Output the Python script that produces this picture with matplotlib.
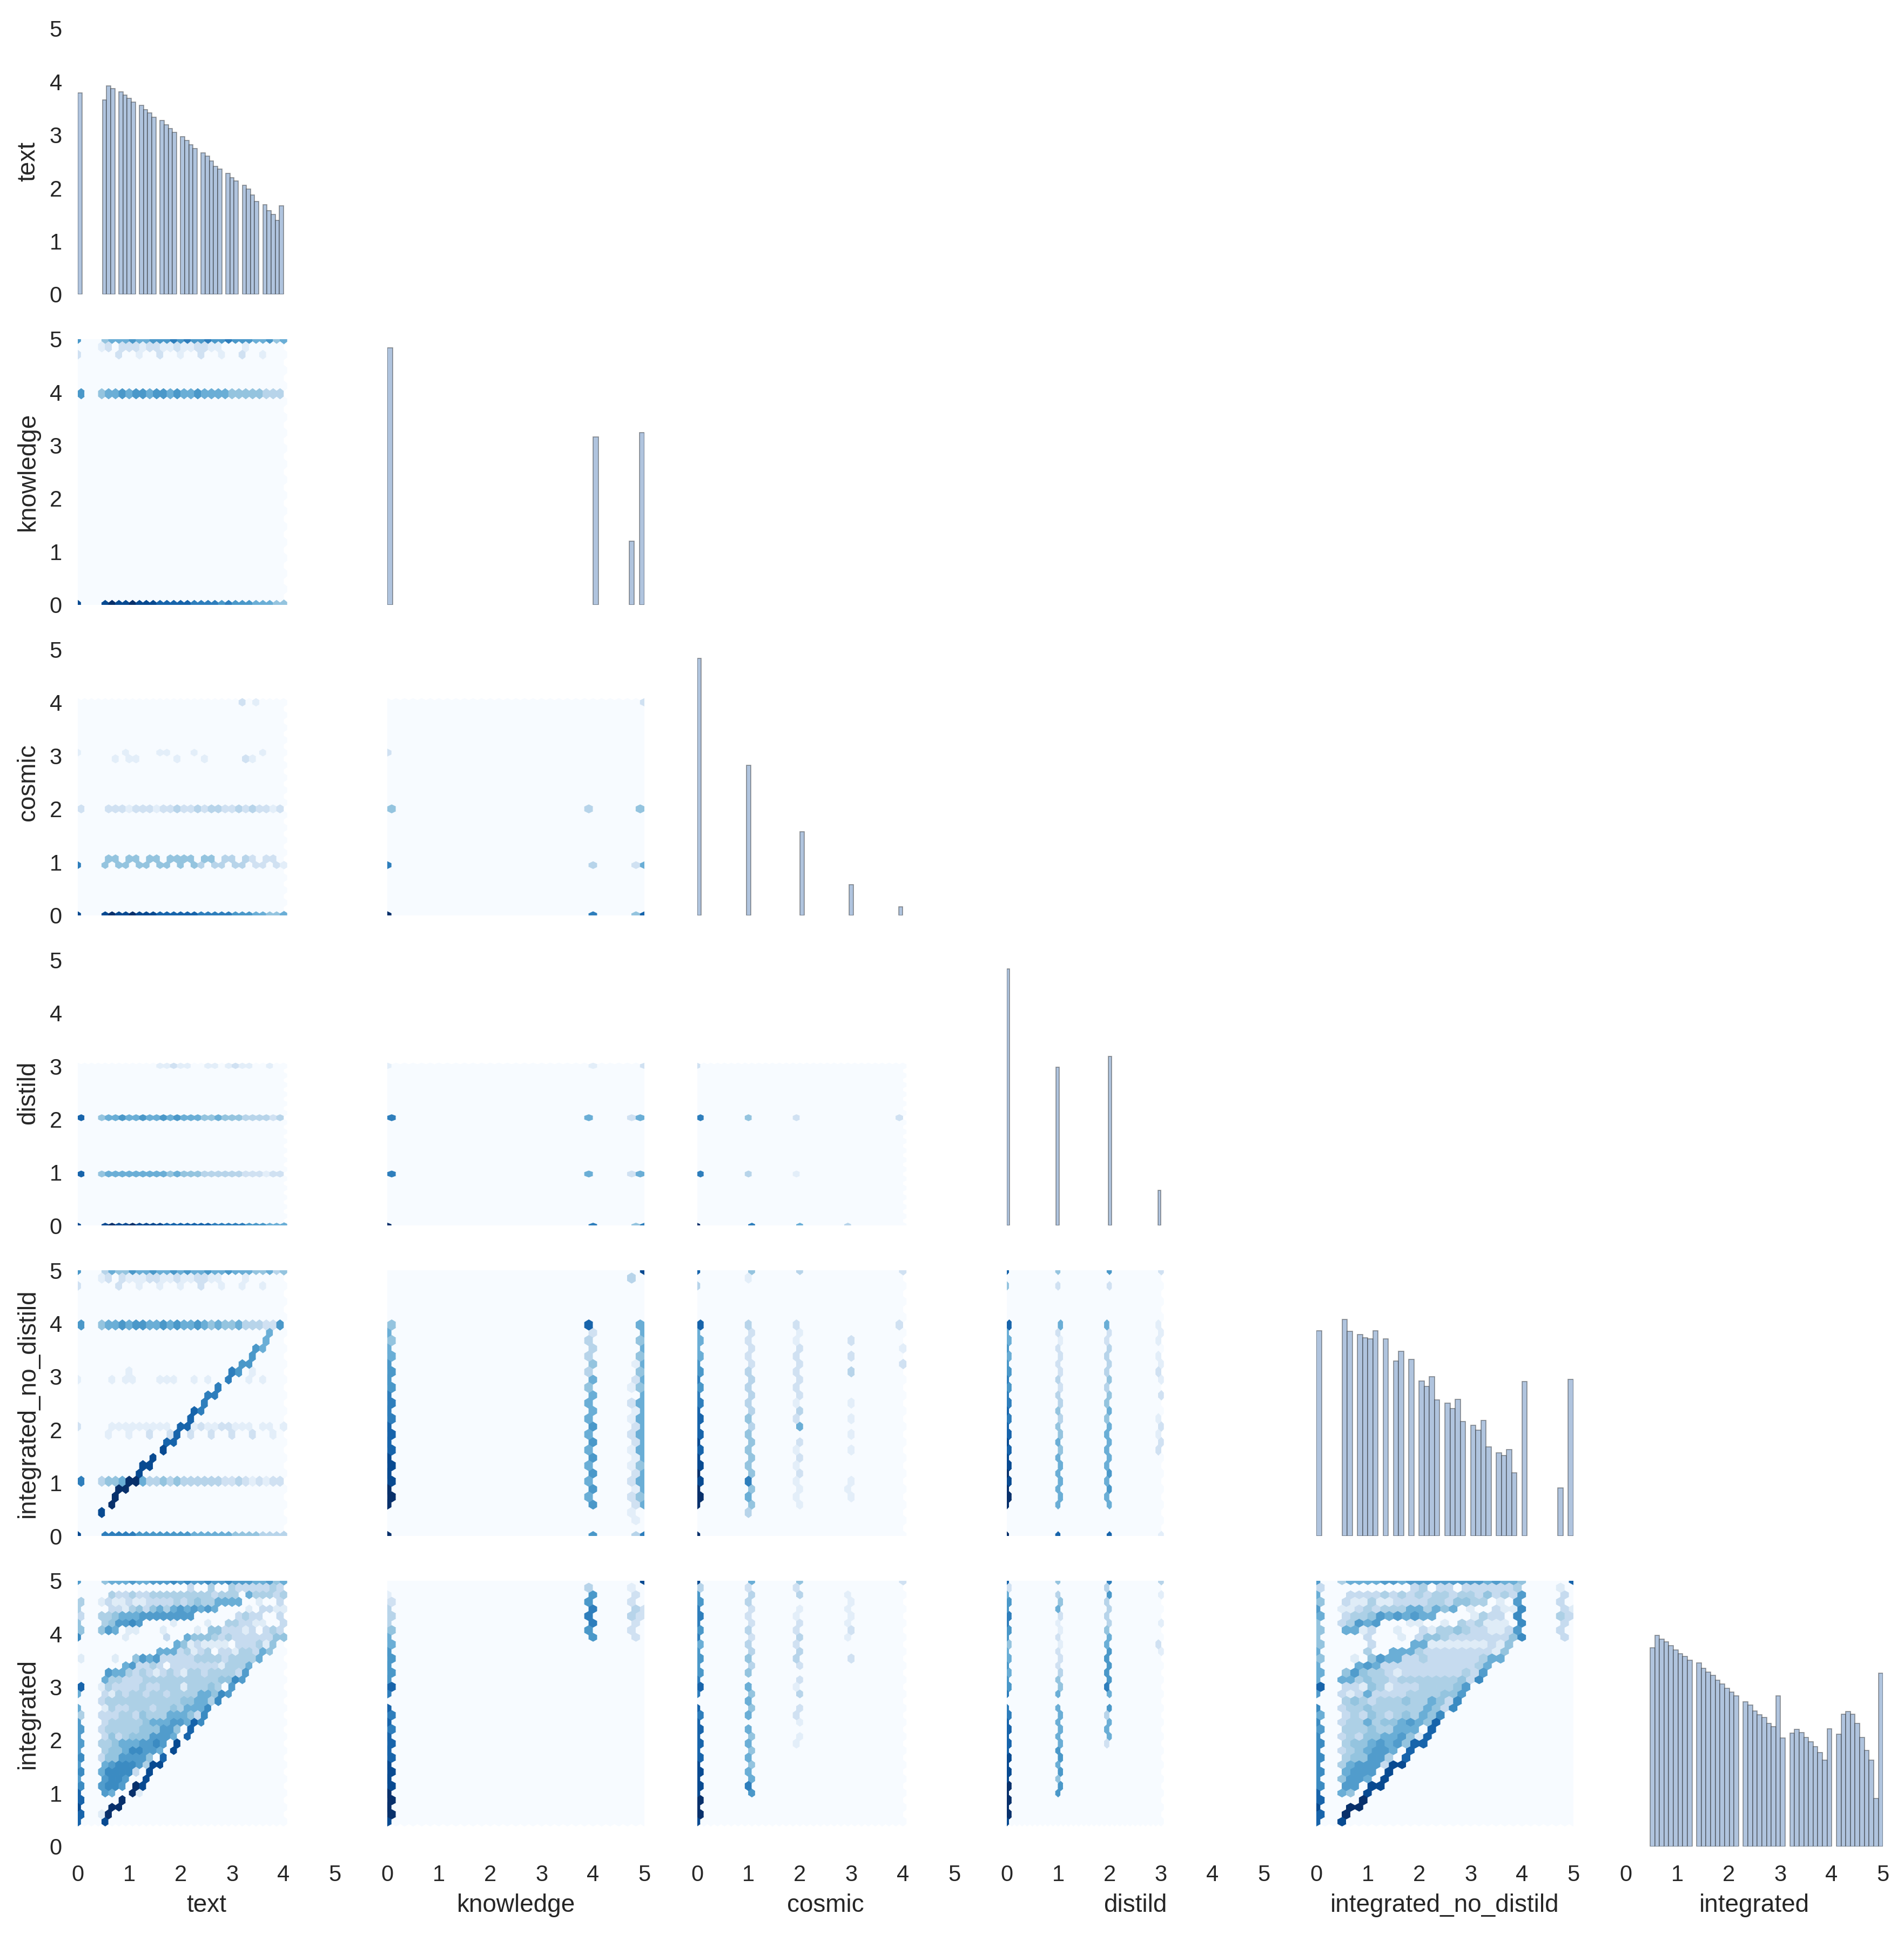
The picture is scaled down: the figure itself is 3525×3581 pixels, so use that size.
import numpy as np
import matplotlib
matplotlib.use("Agg")
import matplotlib.pyplot as plt

plt.rcParams['font.family'] = ['Liberation Sans', 'DejaVu Sans']

VARIABLES = ["text", "knowledge", "cosmic", "distild", "integrated_no_distild", "integrated"]
RANGES = [(0, 4), (0, 5), (0, 4), (0, 3), (0, 5), (0.47, 5)]

# Diagonal histograms: bar heights as read on the 0-5 axis (50 bins)
HIST_TEXT = [3.79,0,0,0,0,0,3.66,3.92,3.87,0,3.81,3.75,3.69,3.62,0,3.56,3.48,3.41,3.33,0,
             3.27,3.19,3.12,3.05,0,2.97,2.90,2.81,2.74,0,2.66,2.60,2.51,2.41,2.36,0,2.28,2.20,2.13,0,
             2.05,1.98,1.87,1.75,0,1.69,1.58,1.50,1.39,1.67]
HIST_KNOWLEDGE = [4.83]+[0]*39+[3.16]+[0]*6+[1.2,0,3.24]
HIST_COSMIC = [4.83]+[0]*11+[2.82]+[0]*12+[1.57]+[0]*11+[0.57]+[0]*11+[0.16]
HIST_DISTILD = [4.83]+[0]*15+[2.98]+[0]*16+[3.18]+[0]*15+[0.66]
HIST_NO_DISTILD = [3.86,0,0,0,0,4.08,3.85,0,3.79,3.73,3.71,3.86,0,3.71,0,3.29,3.48,0,3.32,0,
                   2.92,2.81,3.0,2.56,0,2.5,2.4,2.57,2.15,0,2.08,1.99,2.17,1.68,0,1.57,1.51,1.63,1.19,0,
                   2.91,0,0,0,0,0,0,0.9,0,2.95]
HIST_INTEGRATED = [3.74,3.97,3.90,3.85,3.78,3.70,3.63,3.57,3.50,0,3.45,3.35,3.28,3.22,3.13,3.06,2.98,2.90,2.83,0,
                   2.72,2.66,2.55,2.48,2.43,2.31,2.25,2.83,2.04,0,2.13,2.2,2.14,2.05,1.97,1.88,1.77,1.62,2.21,0,
                   2.11,2.49,2.54,2.49,2.31,2.05,1.81,1.62,0.9,3.26]
HISTS = [HIST_TEXT, HIST_KNOWLEDGE, HIST_COSMIC, HIST_DISTILD, HIST_NO_DISTILD, HIST_INTEGRATED]

# Hexbin densities (colour level 0-a) by half-row of the 30-column hexagon lattice.
# Row tables: half-row -> "start_cell:levels"; column tables: half-column -> levels from the bottom.
KNOWLEDGE_TEXT = {
    34: "0:6 4:455565566676766766766655645",
    33: "3:12 6:222122112112211 24:1",
    32: "0:2 6:2 9:1 12:2 15:1 18:2 21:1 24:2 27:1",
    27: "0:6 3:455656656656556555544444333",
    0: "0:9 4:9a99a9998888877776766655544",
}
COSMIC_TEXT = {
    34: "24:2 26:1",
    26: "0:1 7:1 12:11 17:1 27:1",
    25: "5:1 7:11 14:1 18:1 24:21",
    17: "0:2 4:22212221223223233223232212",
    9: "4:44 7:44 10:44 13:4444 18:44 21:33 24:32 27:22",
    8: "0:7 4:4 6:44 9:44 12:44 15:4 17:43 20:33 23:33 26:22 29:21",
    0: "0:9 4:9a99a9998888887777766655445",
}
DISTILD_TEXT = {
    34: "12:11211 19:11 22:1211 28:1",
    23: "0:8 3:455655655656555445444333323",
    11: "0:8 3:455555555545444333333222122",
    0: "0:9 4:9a99a9999888888877777666555",
}
NO_DISTILD_TEXT = {
    34: "0:6 4:354465565565655655655544534",
    33: "3:12 6:211122112112211 24:1",
    32: "0:2 6:2 9:1 12:1 15:1 18:2 21:1 24:1 27:1",
    27: "0:6 3:455656655656556545445333226",
    26: "28:5", 25: "27:5", 24: "26:65", 23: "25:6", 22: "24:66",
    21: "7:1 22:76 25:1",
    20: "0:1 5:1 7:11 12:111 17:1 19:1 22:7 25:1 27:1",
    19: "20:7", 18: "19:77", 17: "18:7", 16: "17:87", 15: "16:8",
    14: "0:2 5:111111111 15:8812112211101101",
    13: "4:1 7:1 10:2 13:28 16:2 19:2 22:2 25:2 28:1",
    12: "13:88", 11: "12:9", 10: "11:9", 9: "9:99", 8: "9:9",
    7: "0:7 3:3445aa533434333333223212122",
    6: "6:aa", 5: "5:a", 4: "5:a", 3: "3:9",
    0: "0:9 4:777776666666655555544443333",
}
INTEGRATED_TEXT = {
    34: "0:6 4:455565566676766766766655645",
    33: "16:2 19:3 22:32222232",
    32: "5:3223223333333332333 25:533323",
    31: "0:3 3:121121122223234335555001002",
    30: "0:3 5:2213424535656565 25:1 27:2211",
    29: "0:2 3:33455566666666 23:2322 29:2",
    28: "0:4 4:346676 14:1 19:1 22:332211 30:2",
    27: "0:4 3:465 7:11 12:1 17:1 19:44222120232",
    26: "0:7 7:1 13:2 16:544432322222244",
    25: "14:541211110222314",
    24: "12:55523123022133254",
    23: "0:1 5:1 8:4656222223333233335",
    22: "7:5622320222222213335",
    21: "4:655323212321332333326",
    20: "4:533222333333333334476",
    19: "0:8 3:13222232233313334306",
    18: "0:5 4:2132332332333355476",
    17: "3:233333333333445537",
    16: "0:5 4:1322333233435557",
    15: "0:3 3:2223324333555427",
    14: "0:6 4:233333455566587",
    13: "0:6 3:23333344466408",
    12: "0:6 4:2423444666508",
    11: "0:6 3:334555667609",
    10: "0:6 4:34457766509",
    9: "0:7 3:2446666408",
    8: "0:6 4:567776399",
    7: "0:7 3:57777209",
    6: "0:6 4:6776 10:9",
    5: "0:7 3:67760a9",
    4: "0:8 4:65 8:a1",
    3: "0:8 6:a", 2: "0:9 5:aa", 1: "0:8 3:1a", 0: "0:8 4:9",
}
INTEGRATED_NO_DISTILD = {
    34: "0:6 3:3555566566666666656554 30:8",
    33: "0:2 11:2302202222223 28:1",
    32: "0:5 4:222232323233233242326 29:2",
    31: "0:4 3:211311222233244330106 28:2",
    30: "0:6 3:1123233355354501002117 29:21",
    29: "0:5 3:233465656550000132207 28:32",
    28: "0:4 3:2 4:365600011001032311107 29:2",
    27: "0:4 3:551200100213343221126 28:2",
    26: "0:4 6:2 10:1 12:2443222222247 29:2",
    25: "0:4 6:2 11:551111111214",
    24: "0:5 6:3 9:55532222222214",
    23: "0:4 4:1 6:4655223222222355",
    22: "0:5 5:5652222222222235",
    21: "0:5 3:46433212222222326",
    20: "0:5 3:55343323333333427",
    19: "0:8 3:221431222333346",
    18: "0:6 3:212522223333446",
    17: "3:34323334335427",
    16: "0:7 3:23343333335427",
    15: "0:5 3:232432343547",
    14: "0:7 3:233534456548",
    13: "0:6 3:33343355508",
    12: "0:7 3:23244556418",
    11: "0:7 3:3445656488",
    10: "0:7 3:234566508",
    9: "0:7 3:34466308",
    8: "0:7 3:35666299",
    7: "0:7 3:566609",
    6: "0:7 3:466509",
    5: "0:7 3:66099",
    4: "0:8 3:5409",
    3: "0:8 5:a", 2: "0:9 4:aa", 1: "0:8 3:a", 0: "0:8 3:9",
}
COSMIC_KNOWLEDGE = {0: "a000700000000200", 1: "000000004", 47: "000000003", 48: "70003", 58: "40002",
                    59: "000000004", 60: "800050000000000002"}
DISTILD_KNOWLEDGE = {0: "a00000000000000001", 1: "000007000007", 47: "000005000005", 48: "700000000000000001",
                     57: "000002000002", 58: "4", 59: "000005000005", 60: "700000000000000002"}
NO_DISTILD_KNOWLEDGE = {0: "a0aa99887766550000", 1: "00a99887766544000", 47: "00555555543338000",
                        48: "606666665554320000", 57: "01221121210000003", 58: "312121221021000000",
                        59: "00454555544445000", 60: "705555555555550009"}
INTEGRATED_KNOWLEDGE = {0: "9aa998888766653310", 1: "aa998877086654320", 47: "00000000000006763",
                        48: "000000000000067760", 57: "00000000000002321", 58: "000000000000022320",
                        59: "00000000000000200", 60: "000000000000000209"}
DISTILD_COSMIC = {0: "a00000000000000002", 1: "000007000007", 15: "000003000004", 16: "7",
                  29: "000001000002", 30: "5", 44: "3", 59: "000000000002"}
NO_DISTILD_COSMIC = {0: "a0aaa9988776550038", 1: "00a99888766558000", 15: "03574444333223001",
                     16: "004444433332220004", 29: "00111102122212000", 30: "001122253222210003",
                     44: "000100000000000000", 45: "00110111103220000", 59: "00000000000002000",
                     60: "000000000002100002"}
INTEGRATED_COSMIC = {0: "9a9998888776677769", 1: "aa998887086656763", 15: "00755555554433232",
                     16: "006544404403322235", 29: "00000102010322102", 30: "000000112322332134",
                     44: "000000000000011110", 45: "00000000000202110", 60: "000000000000000002"}
NO_DISTILD_DISTILD = {0: "a0aaa9988776650048", 1: "00a99887766558000", 20: "805555544332220024",
                      21: "00555443322215000", 39: "00555554433325000", 40: "805665555443320026",
                      59: "00000211002111000", 60: "100000220211010002"}
INTEGRATED_DISTILD = {0: "9aa998887766567658", 1: "aaa99887065546762", 20: "006456555542221534",
                      21: "00666555043211240", 39: "00000253076654333", 40: "000000556566653367",
                      59: "00000000000020000", 60: "000000000000101013"}

# Colour value of each level in the two dense panels of the bottom row
DENSE_TONES = [0, 1.2, 2.5, 3.3, 4, 5, 5.8, 6.5, 8, 9, 10]

ROW_TABLES = {(1, 0): KNOWLEDGE_TEXT, (2, 0): COSMIC_TEXT, (3, 0): DISTILD_TEXT,
              (4, 0): NO_DISTILD_TEXT, (5, 0): INTEGRATED_TEXT, (5, 4): INTEGRATED_NO_DISTILD}
COLUMN_TABLES = {(2, 1): COSMIC_KNOWLEDGE, (3, 1): DISTILD_KNOWLEDGE, (4, 1): NO_DISTILD_KNOWLEDGE,
                 (5, 1): INTEGRATED_KNOWLEDGE, (3, 2): DISTILD_COSMIC, (4, 2): NO_DISTILD_COSMIC,
                 (5, 2): INTEGRATED_COSMIC, (4, 3): NO_DISTILD_DISTILD, (5, 3): INTEGRATED_DISTILD}

GRID = 30
NY = int(GRID / np.sqrt(3))


def levels_from_rows(table):
    cells = {}
    for h, text in table.items():
        for part in text.split():
            start, digits = part.split(":") if ":" in part else ("0", part)
            for n, ch in enumerate(digits):
                cells[(2 * (int(start) + n) + h % 2, h)] = int(ch, 16)
    return cells


def levels_from_columns(table):
    cells = {}
    for k, digits in table.items():
        for n, ch in enumerate(digits):
            cells[(k, 2 * n + k % 2)] = int(ch, 16)
    return cells


def draw_hex(ax, cells, xr, yr, tones=None):
    xs, ys, vs = [], [], []
    sx = (xr[1] - xr[0]) / GRID
    sy = (yr[1] - yr[0]) / NY
    for h in range(2 * NY + 1):
        for k in range(h % 2, 2 * GRID + 1, 2):
            xs.append(xr[0] + k * sx / 2)
            ys.append(yr[0] + h * sy / 2)
            level = cells.get((k, h), 0)
            vs.append(tones[level] if tones else level)
    ax.hexbin(xs, ys, C=vs, gridsize=GRID, extent=(xr[0], xr[1], yr[0], yr[1]), cmap="Blues",
              vmin=0, vmax=10, reduce_C_function=np.max, linewidths=0.25, edgecolors="face")


W, H = 3525, 3581
fig = plt.figure(figsize=(W / 300, H / 300), dpi=300, facecolor="white")
AX_W, AX_H = 476, 492
INK = "#262626"

for r in range(6):
    for c in range(r + 1):
        left = 144 + 573.25 * c
        top = 53 + 574.75 * r
        ax = fig.add_axes([left / W, 1 - (top + AX_H) / H, AX_W / W, AX_H / H])
        if r == c:
            bins = np.linspace(RANGES[c][0], RANGES[c][1], 51)
            centers = (bins[:-1] + bins[1:]) / 2
            _, _, bars = ax.hist(centers, bins=bins, weights=HISTS[c], facecolor="#b0c4de",
                                 edgecolor=(0.1, 0.1, 0.1, 0.4), linewidth=0.45)
            for bar in bars:
                if bar.get_height() == 0:
                    bar.set_visible(False)
        else:
            if (r, c) in ROW_TABLES:
                cells = levels_from_rows(ROW_TABLES[(r, c)])
                tones = DENSE_TONES if r == 5 else None
            else:
                cells = levels_from_columns(COLUMN_TABLES[(r, c)])
                tones = None
            draw_hex(ax, cells, RANGES[c], RANGES[r], tones)
        ax.set_xlim(0, 5)
        ax.set_ylim(0, 5)
        ax.set_xticks(range(6))
        ax.set_yticks(range(6))
        ax.tick_params(length=0, pad=8, labelsize=10, labelcolor=INK)
        ax.tick_params(axis="y", pad=7)
        for s in ax.spines.values():
            s.set_visible(False)
        if c != 0:
            ax.tick_params(labelleft=False)
        else:
            ax.set_ylabel(VARIABLES[r], fontsize=11, color=INK, va="center")
            ax.yaxis.set_label_coords((52 - 144) / AX_W, 0.5)
        if r != 5:
            ax.tick_params(labelbottom=False)
        else:
            ax.set_xlabel(VARIABLES[c], fontsize=11, color=INK, va="center")
            ax.xaxis.set_label_coords(0.5, -109 / AX_H)

fig.savefig("out.png", dpi=300, facecolor="white")
